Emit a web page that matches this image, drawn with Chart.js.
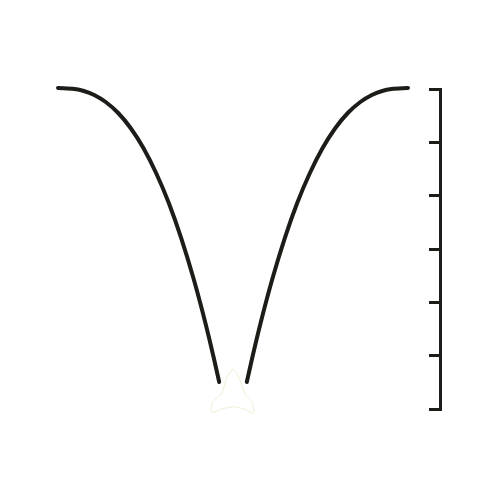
<!DOCTYPE html>
<html>
<head>
<meta charset="utf-8">
<script src="https://cdn.jsdelivr.net/npm/chart.js@4.4.1/dist/chart.umd.min.js"></script>
<style>
  html, body { margin: 0; padding: 0; background: #fff; }
  #wrap { width: 500px; height: 500px; }
</style>
</head>
<body>
<div id="wrap"><canvas id="chart"></canvas></div>
<script>
/* values: x in plot units (0..400), y on the 0..6 axis */
const leftX  = [18, 34.6, 43.8, 54.2, 65.7, 78.2, 90.6, 103.4, 116.1, 128.8, 141.2, 153.4, 165.4, 173.8, 179.2];
const leftY  = [6.019, 6.000, 5.963, 5.888, 5.756, 5.550, 5.269, 4.894, 4.425, 3.863, 3.206, 2.456, 1.613, 0.956, 0.506];
const rightX = [206.8, 212.2, 220.6, 232.6, 244.8, 257.2, 269.9, 282.6, 295.4, 307.8, 320.3, 331.8, 342.2, 351.4, 368];
const rightY = [0.506, 0.956, 1.613, 2.456, 3.206, 3.863, 4.425, 4.894, 5.269, 5.550, 5.756, 5.888, 5.963, 6.000, 6.019];
// faint pale outline near the bottom
const ghostX = [193, 187, 182, 177, 172, 172, 182, 193, 204, 213, 212, 205, 200, 196, 193];
const ghostY = [0.75, 0.60, 0.30, 0.21, 0.11, -0.06, 0.0, 0.04, 0.0, -0.08, 0.13, 0.28, 0.54, 0.69, 0.75];
const yTicks = [0, 1, 2, 3, 4, 5, 6];

const pts = (xs, ys) => xs.map((x, i) => ({x, y: ys[i]}));
const ink = '#1e1c19';

new Chart(document.getElementById('chart'), {
  type: 'line',
  data: {
    datasets: [
      { data: pts(leftX, leftY), borderColor: ink, borderWidth: 4, borderCapStyle: 'round',
        cubicInterpolationMode: 'monotone', pointRadius: 0, clip: false },
      { data: pts(rightX, rightY), borderColor: ink, borderWidth: 4, borderCapStyle: 'round',
        cubicInterpolationMode: 'monotone', pointRadius: 0, clip: false },
      { data: pts(ghostX, ghostY), borderColor: '#efedd2', borderWidth: 1,
        tension: 0.3, pointRadius: 0, clip: false }
    ]
  },
  options: {
    responsive: true,
    maintainAspectRatio: false,
    animation: false,
    layout: { padding: { left: 40, right: 60, top: 89, bottom: 91 } },
    plugins: { legend: { display: false }, tooltip: { enabled: false } },
    scales: {
      x: { type: 'linear', min: 0, max: 400, display: false },
      y: {
        min: yTicks[0], max: yTicks[yTicks.length - 1],
        position: { x: 400 },
        afterBuildTicks: ax => { ax.ticks = yTicks.map(v => ({value: v})); },
        ticks: { display: false },
        border: { display: true, width: 3, color: ink },
        grid: { drawOnChartArea: false, drawTicks: true, tickLength: 10, lineWidth: 3, color: ink }
      }
    }
  }
});
</script>
</body>
</html>
